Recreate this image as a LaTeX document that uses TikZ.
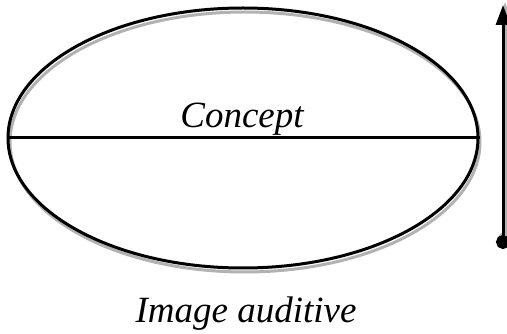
\documentclass[tikz,border=0pt]{standalone}
\usepackage{fontspec}
\setmainfont{Liberation Serif}
\usetikzlibrary{positioning,shapes.geometric,arrows.meta}

\begin{document}
\begin{tikzpicture}[x=1pt, y=-1pt,
    sign/.style={draw, ellipse, line width=3pt, minimum width=470pt, minimum height=260pt, inner sep=0pt},
    shade/.style={draw=black!30, line width=3pt},
    word/.style={font=\fontsize{37}{40}\selectfont\itshape, inner sep=0pt, anchor=base},
    axis/.style={line width=3pt, {Circle[length=14pt]}-{Triangle[length=20pt,width=14pt]}}]
            \useasboundingbox (0,0) rectangle (507,334);
            % grey copy underneath, then the sign itself
            \node[sign, shade] (signshadow) at (245,142) {};
            \node[sign] (sign) at (243,138) {};
            \draw[line width=3pt] (sign.west) -- (sign.east);
            \node[word] (concept) at (242,128) {Concept};
            \node[word] (image) at (246,323) {Image auditive};
            % vertical arrow on the right
            \coordinate (low) at (503,249);
            \coordinate (high) at (503,5);
            \draw[axis, shade] ([xshift=2pt,yshift=3pt]low) -- ([xshift=2pt,yshift=3pt]high);
            \draw[axis] (low) -- (high);
        \end{tikzpicture}
\end{document}
